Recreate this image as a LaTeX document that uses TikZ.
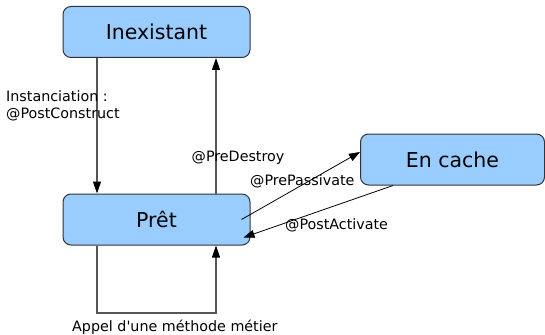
\documentclass[tikz,border=0pt]{standalone}
\usepackage{fontspec}
\setmainfont{DejaVu Sans}
\usepackage{tikz}
\usetikzlibrary{positioning, calc}
\usetikzlibrary{arrows.meta}
\tikzset{>={Triangle[length=12pt,width=8pt,color=black]}}
\definecolor{statefill}{HTML}{99CCFF}
\definecolor{stateline}{HTML}{333333}
\definecolor{linkgray}{HTML}{555555}
\tikzset{
  state/.style={draw=stateline, fill=statefill, line width=1pt, rounded corners=8pt,
    minimum height=51pt, font=\fontsize{20.5}{24}\selectfont},
  trans/.style={draw=linkgray, line width=1.2pt, ->},
  hook/.style={draw=black, line width=0.8pt, ->, >={Triangle[length=11pt,width=8pt]}},
  lbl/.style={inner sep=0pt, anchor=base west, font=\fontsize{14.3}{17}\selectfont}
}

\begin{document}
\begin{tikzpicture}[x=1pt,y=-1pt]
			\useasboundingbox (0,0) rectangle (545,334);
			\node[state, minimum width=187pt] (inex) at (156.5,32) {Inexistant};
			\node[state, minimum width=187pt] (pret) at (156.5,219.5) {Prêt};
			\node[state, minimum width=184pt] (cache) at (452.5,159.5) {En cache};
			\draw[trans] ([xshift=-59.5pt]inex.south) -- ([xshift=-59.5pt]pret.north);
			\draw[trans] ([xshift=59.5pt]pret.north) -- ([xshift=59.5pt]inex.south);
			\draw[trans] ([xshift=-59.5pt]pret.south) -- ++(0,67.5) -| ([xshift=59.5pt]pret.south);
			\draw[hook] ([xshift=85pt]pret.center) -- ([yshift=7.5pt]cache.west);
			\draw[hook] ([xshift=33pt]cache.south west) -- ([xshift=-7pt,yshift=8pt]pret.south east);
			\node[lbl] (inst) at (6,101.5) {Instanciation :};
			\node[lbl] (post) at (6,118) {@PostConstruct};
			\node[lbl] (destroy) at (191.5,161) {@PreDestroy};
			\node[lbl] (passiv) at (250,185) {@PrePassivate};
			\node[lbl] (activ) at (285,229) {@PostActivate};
			\node[lbl] (appel) at (72,331) {Appel d\textquotesingle une méthode métier};
		\end{tikzpicture}
\end{document}
